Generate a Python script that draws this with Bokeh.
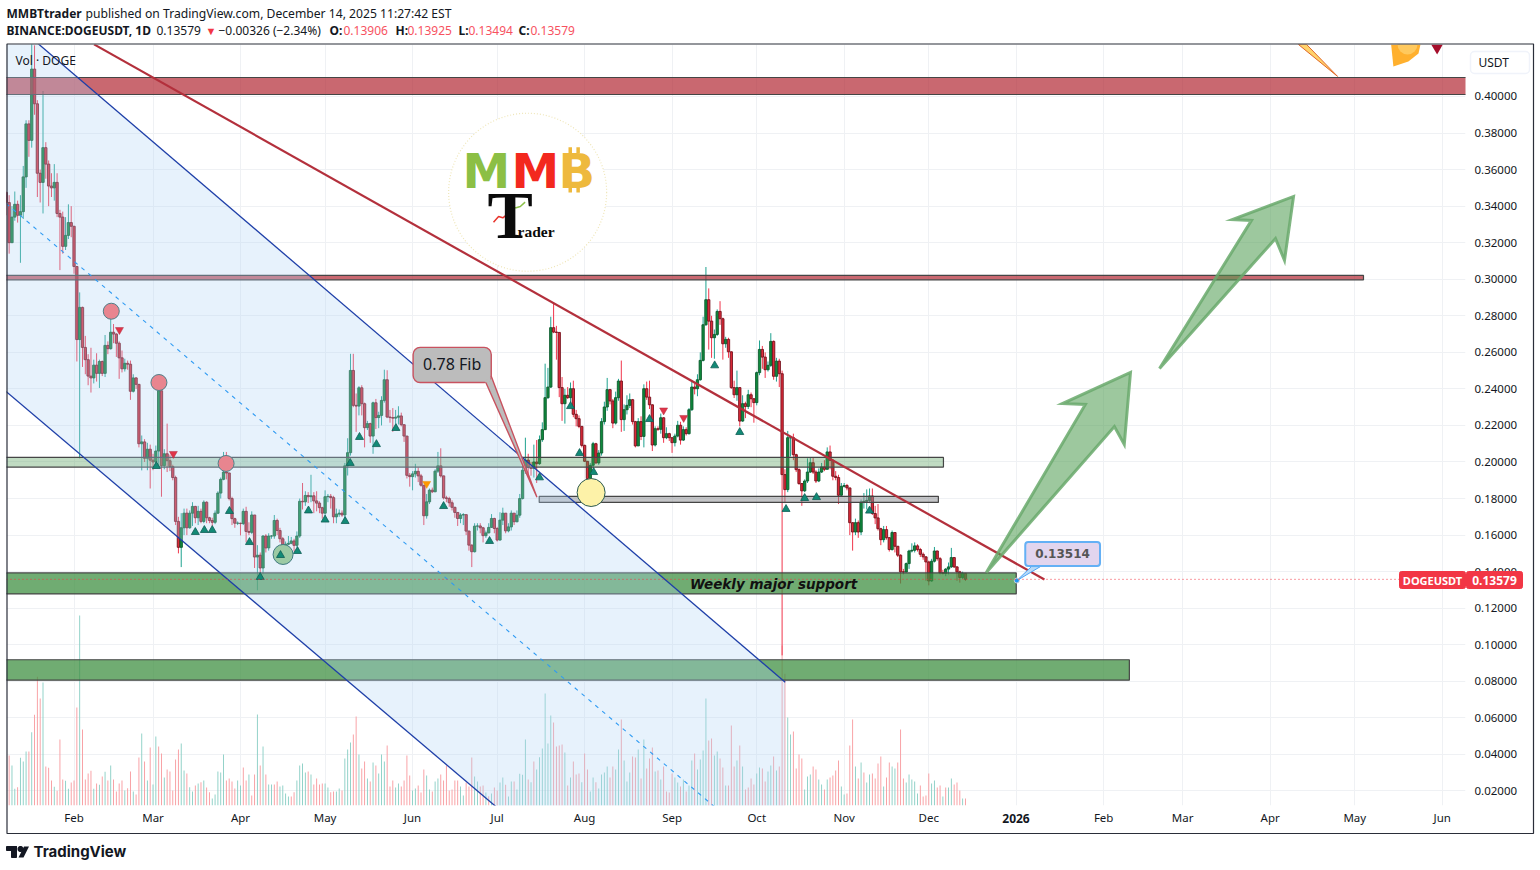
from bokeh.plotting import figure
from bokeh.models import (Range1d, FixedTicker, Label, BoxAnnotation, Span)
from bokeh.embed import file_html
from bokeh.resources import INLINE

# ---- data: days counted from 2025-01-01, first bar is day 7 ----
FIRST_DAY = 7
FIRST_OPEN = .3475
closes = [
 .342,.320,.334,.341,.335,.337,.356,.385,.376,.415,
 .396,.358,.353,.372,.363,.351,.350,.353,.336,.334,
 .318,.324,.331,.329,.307,.267,.2846,.2627,.256,.247,
 .246,.253,.2485,.255,.2485,.2638,.262,.271,.270,.265,
 .257,.251,.254,.2535,.2387,.246,.2425,.210,.211,.202,
 .207,.201,.200,.206,.239,.198,.2045,.2007,.1975,.1915,
 .1675,.1533,.164,.172,.164,.172,.1757,.1695,.173,.1675,
 .178,.1695,.168,.167,.172,.183,.1905,.1945,.1940,.180,
 .169,.1665,.1665,.1663,.173,.162,.1615,.171,.148,.149,
 .142,.1595,.153,.1595,.1595,.168,.1625,.158,.1535,.155,
 .1555,.1568,.1544,.1595,.1785,.1782,.1817,.181,.1815,.1787,
 .1775,.175,.172,.181,.1812,.1805,.170,.1715,.172,.171,
 .1979,.2051,.2501,.231,.2306,.2406,.2319,.2188,.221,.2142,
 .2324,.2243,.2255,.2337,.245,.2246,.2243,.224,.2245,.2252,
 .2204,.2142,.1927,.192,.1935,.1949,.1924,.1873,.1706,.1782,
 .1846,.1837,.1950,.1979,.1924,.1804,.180,.1777,.1752,.1724,
 .1691,.171,.1712,.1622,.1545,.1509,.1649,.165,.164,.1597,
 .1612,.1642,.1691,.1636,.1573,.1682,.172,.1623,.1645,.172,
 .1673,.1709,.1800,.1955,.2010,.197,.1965,.2,.1991,.2122,
 .2177,.2352,.241,.2735,.2711,.2709,.2407,.2319,.2365,.2352,
 .2401,.2261,.2237,.2195,.2091,.2004,.1909,.1982,.2100,.1995,
 .2049,.2221,.2301,.2396,.2334,.2213,.2352,.2443,.2232,.2286,
 .2310,.2341,.2221,.2088,.2221,.2140,.2401,.2355,.2313,.2093,
 .2182,.2179,.2242,.2133,.2155,.2133,.2106,.2142,.2201,.2120,
 .2177,.2155,.2286,.2410,.2401,.2450,.2556,.2751,.2888,.2771,
 .2680,.2698,.2824,.2784,.2647,.2671,.2603,.2407,.2368,.2407,
 .2224,.2319,.2304,.2368,.2346,.2325,.2489,.2616,.2574,.2505,
 .2529,.2660,.2469,.2552,.2483,.1931,.1849,.2133,.2133,.2040,
 .1958,.1882,.1842,.1896,.1945,.1996,.1945,.1896,.1945,.1973,
 .1960,.2055,.2009,.1922,.1915,.1818,.1867,.1871,.1858,.1668,
 .1617,.1668,.1617,.1781,.1785,.1790,.1814,.1718,.1694,.1635,
 .1575,.1630,.1586,.1521,.1614,.1539,.1490,.1399,.1398,.1444,
 .1513,.1517,.1541,.1521,.1495,.1481,.1453,.1349,.1457,.1513,
 .1471,.1393,.1390,.1414,.1426,.1477,.1426,.1399,.1368,.13906,
 .13579]
highs = [
 .348,.346,.340,.348,.343,.346,.362,.387,.387,.430,
 .428,.398,.360,.403,.375,.365,.358,.363,.358,.338,
 .337,.334,.341,.340,.329,.307,.2928,.285,.269,.259,
 .2625,.256,.2595,.256,.2555,.2695,.266,.2845,.2755,.2705,
 .266,.261,.2565,.2555,.2555,.248,.2465,.2425,.2145,.2125,
 .2105,.2095,.2045,.209,.2435,.239,.207,.221,.204,.1985,
 .1925,.170,.172,.1745,.1745,.1735,.178,.176,.176,.1745,
 .179,.1785,.170,.1695,.1735,.184,.1915,.2055,.2055,.1925,
 .181,.1695,.1675,.1668,.1745,.1755,.167,.173,.1695,.1545,
 .1505,.160,.1605,.161,.160,.171,.169,.164,.159,.1565,
 .1595,.159,.158,.162,.180,.1885,.184,.1835,.193,.1835,
 .184,.1785,.1755,.1845,.1825,.1825,.1815,.1745,.174,.1735,
 .1995,.2130,.2592,.2592,.2375,.2415,.242,.2325,.2225,.2215,
 .233,.2345,.2275,.236,.2505,.2502,.2285,.2295,.2285,.2305,
 .227,.2205,.2142,.194,.195,.199,.197,.1935,.1873,.1825,
 .1855,.186,.196,.2055,.2075,.1925,.1815,.181,.179,.1755,
 .1725,.172,.172,.1712,.1625,.155,.1665,.1665,.1665,.1645,
 .1625,.1665,.1715,.1695,.1645,.1725,.175,.172,.1665,.1735,
 .172,.1735,.1825,.2005,.2133,.2045,.200,.2095,.212,.2145,
 .2217,.2538,.2515,.2795,.2875,.2745,.271,.2465,.240,.241,
 .2435,.2445,.2285,.2255,.2195,.2095,.2005,.1995,.211,.2105,
 .2065,.224,.233,.246,.240,.2345,.2385,.2455,.2555,.2315,
 .2365,.2375,.2345,.2225,.224,.225,.2425,.244,.2445,.2315,
 .2195,.2195,.2265,.2245,.219,.216,.2135,.2155,.2225,.222,
 .2195,.219,.2295,.244,.243,.248,.260,.2795,.3067,.295,
 .280,.2725,.2835,.288,.279,.2685,.268,.2605,.2445,.250,
 .241,.2365,.233,.2395,.238,.235,.2495,.2665,.2635,.260,
 .255,.2705,.2665,.257,.2565,.250,.196,.217,.2135,.2155,
 .2045,.1965,.1885,.1905,.202,.2025,.2025,.1955,.1965,.1995,
 .201,.208,.209,.2015,.195,.193,.1885,.1885,.188,.186,
 .167,.169,.168,.1795,.183,.185,.1855,.1855,.176,.177,
 .164,.165,.165,.159,.1625,.1615,.154,.1495,.1415,.145,
 .152,.1555,.156,.155,.153,.1505,.1485,.146,.147,.1535,
 .1515,.148,.141,.142,.145,.153,.148,.143,.1405,.140,
 .13925]
lows = [
 .335,.314,.320,.332,.331,.309,.333,.350,.367,.372,
 .390,.345,.342,.336,.355,.340,.345,.343,.334,.305,
 .314,.316,.322,.323,.303,.255,.202,.252,.248,.242,
 .238,.243,.244,.2405,.247,.2465,.259,.2615,.265,.2575,
 .2455,.249,.2495,.2505,.234,.238,.240,.208,.1954,.200,
 .1955,.1855,.1955,.198,.197,.181,.196,.1945,.195,.190,
 .1655,.150,.1425,.160,.160,.1635,.165,.1665,.1655,.1665,
 .1665,.1665,.1665,.165,.166,.1715,.180,.190,.1905,.179,
 .1655,.164,.1655,.1598,.1655,.156,.160,.1605,.142,.1298,
 .1365,.1385,.1505,.1515,.158,.158,.160,.156,.150,.1525,
 .1545,.155,.151,.1535,.1585,.174,.176,.1775,.178,.172,
 .173,.172,.169,.170,.178,.1745,.1665,.1665,.170,.170,
 .1695,.1926,.2035,.230,.2165,.2255,.2255,.208,.2175,.2105,
 .2045,.218,.2185,.220,.2325,.224,.2215,.2165,.221,.2205,
 .2195,.211,.191,.1865,.1845,.1915,.189,.1865,.1655,.169,
 .177,.183,.1835,.194,.1915,.1795,.178,.1755,.1735,.1695,
 .165,.1665,.1655,.160,.1515,.1425,.1505,.1625,.161,.156,
 .1585,.161,.164,.161,.1565,.157,.1655,.161,.1615,.1625,
 .1655,.167,.1695,.1795,.1935,.1925,.1925,.1915,.1885,.1985,
 .211,.2175,.2345,.2405,.2705,.256,.2355,.2225,.221,.2345,
 .230,.2245,.2195,.2185,.208,.200,.1885,.1885,.1965,.199,
 .1985,.2035,.2205,.228,.2315,.2185,.2205,.2335,.2165,.217,
 .226,.2295,.2205,.208,.209,.212,.208,.234,.229,.206,
 .2085,.217,.2155,.2105,.2125,.2115,.205,.2085,.2135,.2095,
 .2115,.2145,.215,.228,.237,.236,.2445,.255,.2745,.2615,
 .257,.2565,.269,.275,.256,.2625,.257,.240,.235,.2335,
 .2195,.222,.224,.229,.230,.2215,.231,.2475,.251,.246,
 .2495,.252,.245,.244,.241,.0942,.1775,.1835,.203,.201,
 .1945,.1875,.176,.1835,.1885,.194,.1935,.1885,.189,.194,
 .195,.196,.196,.190,.190,.177,.181,.186,.1845,.160,
 .1515,.160,.1585,.160,.1745,.174,.1775,.171,.166,.1625,
 .1545,.156,.1575,.151,.1515,.1505,.148,.1335,.1385,.1395,
 .1415,.1505,.1505,.151,.148,.1465,.135,.1325,.1345,.145,
 .146,.1385,.1385,.1375,.1385,.142,.142,.135,.134,.136,
 .13494]
# volume starts on day 8
volumes = [
 150,120,50,55,143,132,162,162,220,272,
 386,321,369,117,113,75,56,44,198,78,
 74,50,69,75,294,570,228,78,96,104,
 50,66,62,87,101,75,120,78,42,66,
 75,45,52,102,42,33,144,216,132,75,
 174,63,207,177,156,84,108,102,45,138,
 168,186,105,96,55,42,60,66,70,75,
 54,40,21,33,102,99,153,75,81,72,
 51,75,60,114,75,93,30,93,273,120,
 177,93,63,63,63,72,57,60,36,27,
 27,40,75,120,126,99,102,93,63,81,
 63,66,66,54,40,42,42,51,45,141,
 168,189,213,267,153,111,132,81,72,129,
 120,96,153,132,180,57,75,54,66,57,
 75,150,90,45,51,60,39,108,90,48,
 42,72,81,93,75,120,45,48,75,75,
 57,30,69,57,144,87,72,57,60,39,
 28,36,54,45,69,
 84,62,27,72,72,48,95,92,198,78,
 70,132,108,145,171,336,186,270,249,177,
 180,183,159,60,84,132,93,96,70,156,
 108,42,84,70,51,93,99,117,84,117,
 108,168,258,135,72,99,147,144,168,81,
 198,111,141,174,102,105,78,117,42,39,
 96,84,69,57,78,42,60,135,156,108,
 138,165,321,195,201,150,162,141,114,60,
 60,240,117,135,180,117,48,54,81,63,
 96,114,111,72,102,120,147,105,117,480,
 395,264,213,222,111,153,141,48,87,93,
 117,108,78,63,48,78,84,90,105,135,
 57,33,36,180,258,117,81,129,99,69,
 93,96,81,126,147,57,84,129,117,111,
 129,228,81,69,93,78,72,36,60,27,
 30,96,66,75,54,60,27,54,54,81,
 63,69,45,21,21]
volume_dirs = ("RGGRGGGRGR" "RRGRRRGRRR" "GGRRRGRRRR" "GRGRGRGRRR" "RGRRGRRGRG"
 "RGGRRGRRRR" "RGGRGGRGRG" "RRGGGGGRRR" "RGGRRGRRGR" "GRGGRRGGGG"
 "RRGGGGRGRR" "RRGGRRGGRG" "GGRRGRRGRG" "RGGGRRRGGR" "RRRGGRRRGG"
 "RGGRRRRRRR" "GGRRRGGRRG" "RGRRG"
 "GRGGRGGGGR" "GRGGGGGGRR" "RRGRGRRRGR" "RGGRGGGGRR" "GGRGGGRRGR"
 "GRRRGRGRRR" "RGGRGRGGRG" "GGGRRGGRRG" "RRRGRGRRRR" "GGRRGGRGRR"
 "RGGRRRRGGG" "RRGGRGRRRR" "GGRRRGRGRG" "GRRRRGRRGG" "RRRGGGGGRR"
 "RRGGRRGRGG" "RRRGR")

if not (len(closes) == len(highs) == len(lows) == 341 and len(volumes) == 340 and len(volume_dirs) == 340):
    raise SystemExit(f"lengths {len(closes)} {len(highs)} {len(lows)} {len(volumes)} {len(volume_dirs)}")

price_ticks = [.02,.04,.06,.08,.10,.12,.14,.16,.18,.20,.22,.24,.26,.28,.30,.32,.34,.36,.38,.40]
month_days = [31,59,90,120,151,181,212,243,273,304,334,365,396,424,455,485,516]
month_names = ["Feb","Mar","Apr","May","Jun","Jul","Aug","Sep","Oct","Nov","Dec","","Feb","Mar","Apr","May","Jun"]
last_close = .13579

# zones: (top price, bottom price, right day)
zones_red = [(.4104,.4011,700),(.3021,.2997,488.1)]
zones_green = [(.1393,.1278,365.0),(.0918,.0806,405.1)]
zone_light = (.2025,.1972,339.2)
zone_grey = (.1812,.1779,195.9,337.4)
channel_days = [6.9,283.1]
channel_up = [.4439,.0795]
channel_mid = [.3415,-.0216]
channel_low = [.2386,-.1227]
trend_days = [38.09,375.0]
trend_prices = [.4285,.1357]
up_marks = [(60.2,.1977),(74.0,.1616),(77.2,.1627),(80.0,.1627),(86.1,.1731),(93.2,.1561),(97.0,.1370),
 (104.2,.1490),(110.2,.1512),(114.1,.1734),(120.0,.1684),(127.1,.1676),(128.9,.1994),(132.2,.2136),
 (138.2,.2097),(145.1,.2185),(162.0,.1758),(178.3,.1567),(196.0,.1915),(207.0,.2305),(210.2,.2048),
 (215.2,.1944),(235.0,.2234),(258.1,.2528),(267.0,.2163),(283.4,.1742),(290.0,.1802),(294.2,.1807),(313.0,.1733)]
down_marks = [(47.1,.2723),(66.2,.2045),(240.0,.2283),(247.1,.2242)]
orange_marks = [(156.0,.1881)]
pink_circles = [(44.2,.2825),(61.1,.2435),(84.9,.1992)]
green_circle = (105.1,.1494)
yellow_circle = (214.3,.1833)
arrow1_d = [354.4,389.5,381.4,405.5,403.3,399.8]
arrow1_p = [.1395,.2315,.2320,.2490,.2096,.2194]
arrow2_d = [415.8,448.4,441.6,463.3,460.1,456.9]
arrow2_p = [.2512,.3322,.3327,.3453,.3103,.3223]

# ---- layout (page pixels) ----
FL, FR, FT, FB = 6, 1465, 44, 805
p = figure(width=1540, height=870, output_backend="svg", toolbar_location=None,
           x_range=Range1d(7.06, 524.26), y_range=Range1d(.01204, .42845),
           y_axis_location="right", min_border_left=FL, min_border_right=1540-FR,
           min_border_top=FT, min_border_bottom=870-FB, tools="")
p.outline_line_color = None
p.background_fill_color = "#ffffff"
p.extra_y_ranges = {"vol": Range1d(0, 761*3)}

TXT = "#131722"
FONT = "Noto Sans"
for ax in (p.xaxis[0], p.yaxis[0]):
    ax.axis_line_color = None
    ax.major_tick_line_color = None
    ax.minor_tick_line_color = None
    ax.major_tick_out = 0
    ax.major_tick_in = 0
    ax.major_label_text_color = TXT
    ax.major_label_text_font = FONT
    ax.major_label_text_font_size = "11.5px"
p.yaxis[0].ticker = FixedTicker(ticks=price_ticks)
p.yaxis[0].major_label_overrides = {v: f"{v:.5f}" for v in price_ticks}
p.yaxis[0].major_label_standoff = 9
p.xaxis[0].ticker = FixedTicker(ticks=month_days)
p.xaxis[0].major_label_overrides = dict(zip(month_days, month_names))
p.xaxis[0].major_label_standoff = 4
p.grid.grid_line_color = "#eff1f4"
p.grid.grid_line_width = 1

GREEN_W, RED_W = "#1fa28f", "#f0364c"
GREEN_B, RED_B = "#0f8a3c", "#dc2a38"
days = [FIRST_DAY + i for i in range(len(closes))]
opens = [FIRST_OPEN] + closes[:-1]
up = [c >= o for o, c in zip(opens, closes)]

# volume
vdays = days[1:]
p.vbar(x=vdays, top=volumes, bottom=0, width=.33, y_range_name="vol", line_color=None,
       fill_color=["#8bcfc5" if f == "G" else "#f89ca0" for f in volume_dirs])

# candles
p.segment(days, highs, days, lows, line_width=1, line_color=[GREEN_W if u else RED_W for u in up])
p.vbar(x=days, top=[max(a, b) for a, b in zip(opens, closes)], bottom=[min(a, b) for a, b in zip(opens, closes)],
       width=.82, fill_color=[GREEN_B if u else RED_B for u in up],
       line_color=["#0c5a2e" if u else "#74111c" for u in up], line_width=.9)

# zones
ZB = "#454545"
x0 = 0
for t, b, r in zones_red:
    p.quad(left=x0, right=r, top=t, bottom=b, fill_color="#b22833", fill_alpha=.7, line_color=ZB, line_width=1.2)
for t, b, r in zones_green:
    p.quad(left=x0, right=r, top=t, bottom=b, fill_color="#3e8f41", fill_alpha=.74, line_color=ZB, line_width=1.2)
p.quad(left=x0, right=zone_light[2], top=zone_light[0], bottom=zone_light[1], fill_color="#4f9a57", fill_alpha=.36, line_color=ZB, line_width=1.2)
p.quad(left=zone_grey[2], right=zone_grey[3], top=zone_grey[0], bottom=zone_grey[1], fill_color="#8a8c90", fill_alpha=.5, line_color=ZB, line_width=1.2)

# white logo disc
p.scatter([191.8], [.3476], size=158, marker="circle", fill_color="#ffffff", line_color="#efe6b8", line_width=1.2, line_dash="1 2")

# channel
p.patch([channel_days[0], channel_days[1], channel_days[1], channel_days[0]],
        [channel_up[0], channel_up[1], channel_low[1], channel_low[0]],
        fill_color="#afd4f5", fill_alpha=.3, line_color=None)
p.line(channel_days, channel_up, line_color="#1e3fa8", line_width=1.3)
p.line(channel_days, channel_low, line_color="#1e3fa8", line_width=1.3)
p.line(channel_days, channel_mid, line_color="#2f9bf3", line_width=1.1, line_dash="4 5")

# close-price line
p.add_layout(Span(location=last_close, dimension="width", line_color="#f23645", line_dash="1 3", line_width=1))

# markers
p.scatter([d for d, _ in pink_circles], [v for _, v in pink_circles], marker="circle", size=16, fill_color="#e8858f", line_color="#4f7f88", line_width=1)
p.scatter([green_circle[0]], [green_circle[1]], marker="circle", size=20, fill_color="#9ccaa4", line_color="#3f7a80", line_width=1)
p.scatter([yellow_circle[0]], [yellow_circle[1]], marker="circle", size=28, fill_color="#fdf2a8", line_color="#2c5a52", line_width=1)
p.scatter([d for d, _ in up_marks], [v for _, v in up_marks], marker="triangle", size=8, fill_color="#128a76", line_color="#0f5e56", line_width=.8)
p.scatter([d for d, _ in down_marks], [v for _, v in down_marks], marker="inverted_triangle", size=8, fill_color="#e03448", line_color="#b03040", line_width=.5)
p.scatter([d for d, _ in orange_marks], [v for _, v in orange_marks], marker="inverted_triangle", size=8, fill_color="#ff9800", line_color="#ef8a00", line_width=.5)

# trend line
p.line(trend_days, trend_prices, line_color="#b3303c", line_width=2.2)

# arrows
for dd, pp in ((arrow1_d, arrow1_p), (arrow2_d, arrow2_p)):
    p.patch(dd, pp, fill_color="#4c9a4f", fill_alpha=.55, line_color="#6aa96c", line_width=3, line_alpha=.85, line_join="miter")

# 0.78 Fib callout
p.patch([176.9,178.8,195.1], [.2438,.2473,.1807], fill_color="#bcbcbc", line_color=None)
p.line([178.8,195.1,176.9], [.2473,.1807,.2438], line_color="#c8525f", line_width=1.4)
p.add_layout(BoxAnnotation(left=151.2, right=178.9, top=.2627, bottom=.2435, fill_color="#bcbcbc", fill_alpha=1,
                           line_color="#c8525f", line_alpha=1, line_width=1.4, border_radius=7))
p.add_layout(Label(x=165.05, y=.2534, text="0.78 Fib", text_font=FONT, text_font_size="16px", text_color=TXT,
                   text_align="center", text_baseline="middle"))

# 0.13514 callout
p.patch([370.4,373.6,365.2], [.1428,.1428,.1351], fill_color="#b7d9f7", line_color="#4da3f5", line_width=1)
p.add_layout(BoxAnnotation(left=368.2, right=394.7, top=.1562, bottom=.1431, fill_color="#e2d5ee", fill_alpha=1,
                           line_color="#64b0f5", line_alpha=1, line_width=2, border_radius=3))
p.add_layout(Label(x=381.4, y=.1499, text="0.13514", text_font="DejaVu Sans", text_font_size="12px", text_font_style="bold",
                   text_color="#555555", text_align="center", text_baseline="middle"))
p.scatter([365.2], [.13514], marker="circle", size=5, fill_color="#2196f3", line_color="#cdd3dc", line_width=1)

# zone text
p.add_layout(Label(x=279.0, y=.1330, text="Weekly major support", text_font="DejaVu Sans", text_font_size="13.5px",
                   text_font_style="bold italic", text_color="#111111", text_align="center", text_baseline="middle"))

# top-right clipped drawings
p.patch([465.0,467.9,478.9], [.4285,.4285,.4110], fill_color="#ffd36b", line_color="#e0672a", line_width=1)
p.patch([497.9,508.3,507.6,504.0,498.7], [.4285,.4285,.4235,.4192,.4164], fill_color="#ffb02e", line_color=None)
p.scatter([503.7], [.4285], marker="circle", size=20, fill_color="#ffc95e", line_color=None)
p.patch([512.1,516.2,514.2], [.4285,.4285,.4230], fill_color="#a50e2b", line_color=None)

# logo marks
p.segment([206.9,209.7,206.9,209.7], [.3722,.3722,.3500,.3500], [206.9,209.7,206.9,209.7], [.3690,.3690,.3475,.3475], line_color="#eeb93d", line_width=3.5)
p.line([179.7,181.5,183.0,185.6], [.3312,.3343,.3336,.3367], line_color="#e8342c", line_width=1.5)
p.line([185.6,186.2,187.7,189.2,190.9], [.3367,.3391,.3391,.3398,.3422], line_color="#8cc04a", line_width=1.5)

# ---- page furniture: a transparent sheet over the chart, measured in page pixels ----
sheet = figure(width=1540, height=870, output_backend="svg", toolbar_location=None, tools="",
               x_range=Range1d(0, 1540), y_range=Range1d(870, 0), x_axis_location=None, y_axis_location=None,
               min_border=0, min_border_left=0, min_border_right=0, min_border_top=0, min_border_bottom=0)
sheet.grid.visible = False
sheet.outline_line_color = None
sheet.border_fill_color = None
sheet.background_fill_color = None
sheet.styles = {"position": "absolute", "left": "0px", "top": "0px", "pointer-events": "none"}


def text(s, x, y, size="12px", color=TXT, style="normal", font=FONT, align="left"):
    sheet.add_layout(Label(x=x, y=y, text=s, text_font=font, text_font_size=size, text_font_style=style,
                           text_color=color, text_align=align, text_baseline="middle"))


def box(l, r, t, b, fill=None, line=None, radius=0, width=1):
    sheet.add_layout(BoxAnnotation(left=l, right=r, top=t, bottom=b, fill_color=fill, fill_alpha=1 if fill else 0,
                                   line_color=line, line_alpha=1, line_width=width, border_radius=radius))


# logo text
text("M", 462, 170, "48px", "#8cbf45", "bold", "DejaVu Sans")
text("M", 511, 170, "48px", "#f3281e", "bold", "DejaVu Sans")
text("B", 558, 170, "48px", "#eeb93d", "bold", "DejaVu Sans")
text("T", 487, 214, "68px", "#0b0b0b", "bold", "Liberation Serif")
text("rader", 517, 231, "15.5px", "#0b0b0b", "bold", "Liberation Serif")

# header
RED = "#f7525f"
text("MMBTtrader", 6, 13, style="bold")
text("published on TradingView.com, December 14, 2025 11:27:42 EST", 85, 13, size="12.15px")
text("BINANCE:DOGEUSDT, 1D", 6, 30, style="bold")
text("0.13579", 156, 30)
text("▼", 205, 30, "11px", "#f23645")
text("−0.00326 (−2.34%)", 218, 30)
for s, x, v, vx in (("O:", 329, "0.13906", 343), ("H:", 395, "0.13925", 407), ("L:", 458, "0.13494", 468), ("C:", 518, "0.13579", 530)):
    text(s, x, 30, style="bold")
    text(v, vx, 30, color=RED)
text("Vol · DOGE", 15, 60)

# axis extras
text("2026", 1015.5, 818, style="bold", align="center")
box(1470, 1529, 51, 73, fill="#ffffff", line="#f0f3fa", radius=4, width=1.5)
text("USDT", 1478, 62)
box(1399, 1465, 571, 588, fill="#f23645", line="#f23645", radius=2)
box(1466, 1522, 571, 588, fill="#f23645", line="#f23645", radius=2)
text("DOGEUSDT", 1432, 580, color="#ffffff", align="center", style="bold", size="11px")
text("0.13579", 1494, 580, color="#ffffff", align="center", style="bold")

# outer frame
box(6.5, 1533, 43.5, 833, line="#2a2e39", width=1.2)

# join of the 0.78 Fib pointer and its box
sheet.patch([484, 490, 490, 487.5], [381.6, 376.2, 380, 382.4], fill_color="#bcbcbc", line_color=None)

# TradingView mark
box(6, 16, 846, 850, fill="#131722", line="#131722")
box(11, 16, 846, 857, fill="#131722", line="#131722")
box(17.5, 22.5, 846, 851, fill="#131722", line="#131722", radius=2)
sheet.patch([23.5, 28.5, 23, 18], [846, 846, 857, 857], fill_color="#131722", line_color=None)
text("TradingView", 33, 851, "15px", "#131722", "bold", "Inter")

open("out.html", "w").write(file_html([p, sheet], INLINE))
